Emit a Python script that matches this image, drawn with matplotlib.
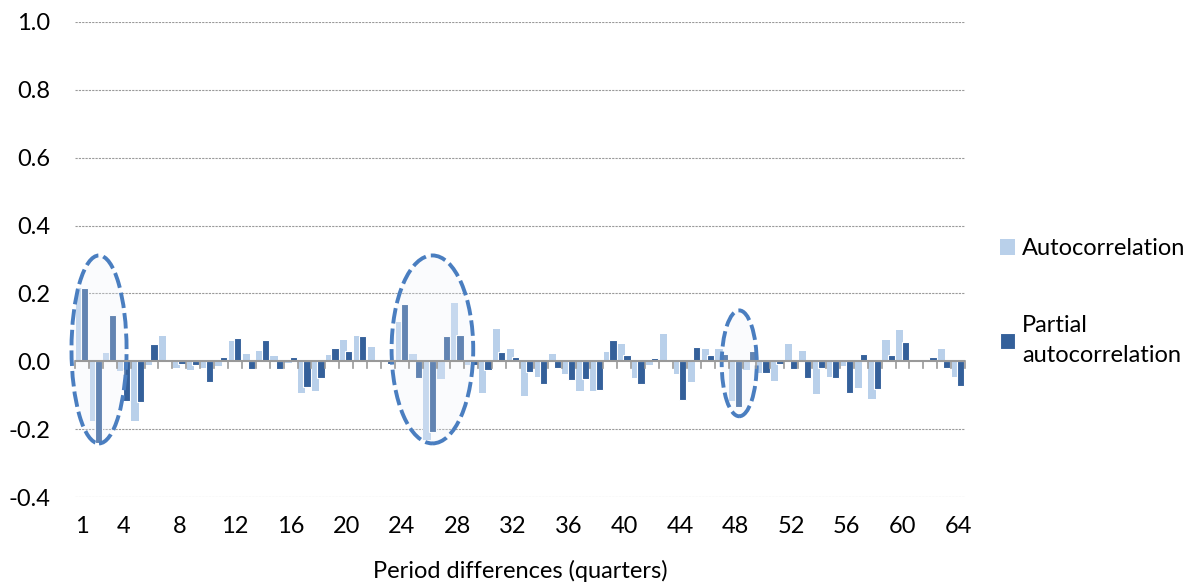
import matplotlib.pyplot as plt
import numpy as np
from matplotlib.patches import Ellipse

plt.rcParams['font.family'] = ['Lato', 'DejaVu Sans']

# Dados (defasagens 1..64)
lags = np.arange(1, 65)

acf = [0.216, -0.175, 0.025, -0.030, -0.175, -0.012, 0.076, -0.020,
       -0.026, -0.019, -0.014, 0.060, 0.023, 0.030, 0.016, -0.005,
       -0.093, -0.088, 0.020, 0.064, 0.074, 0.041, 0.000, 0.116,
       0.023, -0.232, -0.053, 0.172, -0.010, -0.093, 0.096, 0.037,
       -0.102, -0.046, 0.023, -0.038, -0.088, -0.088, 0.027, 0.052,
       -0.049, -0.012, 0.081, -0.038, -0.061, 0.037, 0.037, -0.117,
       -0.025, -0.034, -0.059, 0.052, 0.030, -0.095, -0.046, -0.014,
       -0.080, -0.110, 0.064, 0.091, 0.003, 0.000, 0.037, -0.046]

pacf = [0.216, -0.240, 0.135, -0.117, -0.120, 0.052, 0.003, -0.009,
        -0.012, -0.060, 0.012, 0.070, -0.024, 0.064, -0.024, 0.012,
        -0.077, -0.049, 0.038, 0.030, 0.074, 0.000, -0.008, 0.170,
        -0.049, -0.208, 0.074, 0.078, -0.012, -0.026, 0.027, 0.013,
        -0.031, -0.068, -0.020, -0.056, -0.053, -0.085, 0.064, 0.020,
        -0.068, 0.009, 0.000, -0.115, 0.041, 0.020, 0.023, -0.134,
        0.030, -0.033, -0.009, -0.024, -0.049, -0.021, -0.049, -0.093,
        0.023, -0.082, 0.020, 0.056, 0.000, 0.012, -0.020, -0.074]

xticks = [1, 4, 8, 12, 16, 20, 24, 28, 32, 36, 40, 44, 48, 52, 56, 60, 64]
yticks = [-0.4, -0.2, 0.0, 0.2, 0.4, 0.6, 0.8, 1.0]

# Elipses de destaque: (centro x, centro y, largura, altura)
destaques = [(2.23, 0.035, 3.96, 0.554),
             (26.2, 0.035, 5.87, 0.554),
             (48.26, -0.006, 2.52, 0.312)]

fig = plt.figure(figsize=(11.9, 5.82), dpi=100)
ax = fig.add_axes([0.063, 0.146, 0.748, 0.8162])

claro = '#b9d0ea'
escuro = '#34609a'

ax.bar(lags - 0.19, acf, width=0.52, color=claro, label='Autocorrelation', zorder=2)
ax.bar(lags + 0.19, pacf, width=0.52, color=escuro, edgecolor='white', linewidth=0.8,
       label='Partial\nautocorrelation', zorder=3)

for (cx, cy, w, h) in destaques:
    ax.add_patch(Ellipse((cx, cy), w, h, facecolor=(0.93, 0.95, 0.98, 0.25),
                         edgecolor='#4a7ec0', linewidth=2.8, linestyle=(0, (4, 1.3)),
                         zorder=4, clip_on=False))

ax.set_xlim(0.5, 64.5)
ax.set_ylim(-0.4, 1.0)
ax.set_yticks(yticks)
ax.set_yticklabels([f'{v:.1f}' for v in yticks])
for v in yticks:
    if v != 0.0:
        ax.axhline(v, color='#9a9a9a', linewidth=0.8, linestyle=(0, (2, 1)), zorder=1)
ax.axhline(0.0, color='#999999', linewidth=1.5, zorder=5)

# Marcas de categoria abaixo da linha do zero
for b in np.arange(0.5, 65, 1.0):
    ax.plot([b, b], [0.0, -0.02], color='#999999', linewidth=1.2, zorder=5, clip_on=False)

ax.set_xticks(xticks)
ax.tick_params(axis='x', length=0, labelsize=17, pad=14)
ax.tick_params(axis='y', length=0, labelsize=17, pad=18)
for s in ax.spines.values():
    s.set_visible(False)

ax.set_xlabel('Period differences (quarters)', fontsize=17, labelpad=16)

leg = ax.legend(loc='center left', bbox_to_anchor=(1.039, 0.41), frameon=False, fontsize=17,
                borderaxespad=0, borderpad=0,
                handlelength=0.64, handleheight=0.64, handletextpad=0.3, labelspacing=2.35)
for t in leg.get_texts():
    t.set_linespacing(1.55)

fig.savefig('out.png', dpi=100)
